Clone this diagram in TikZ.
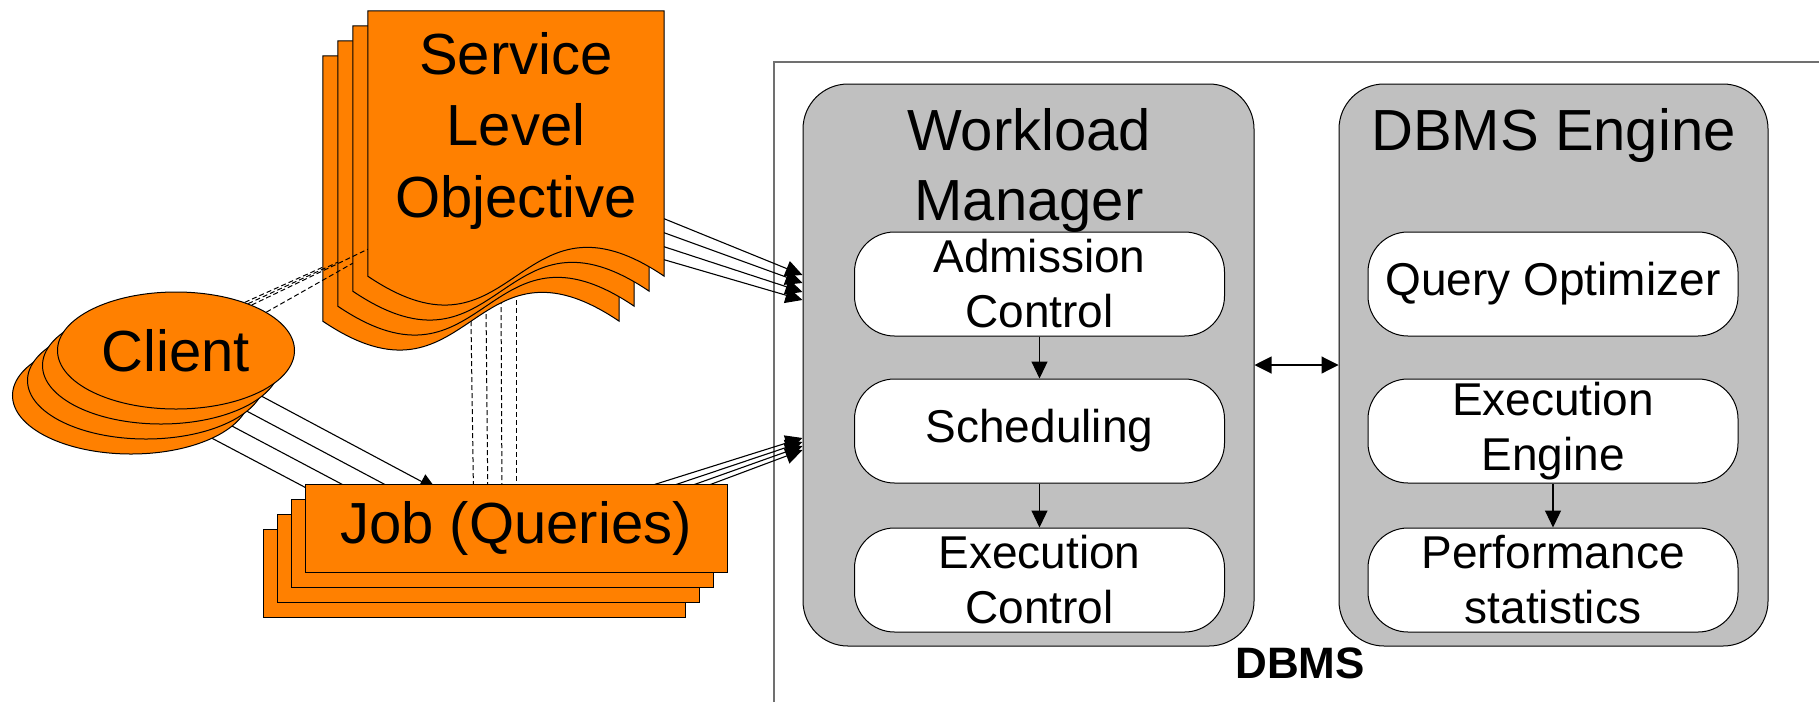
\documentclass[tikz,border=0pt]{standalone}
\usepackage{fontspec}
\setmainfont{Liberation Sans}
\usetikzlibrary{arrows.meta,shapes.geometric,calc}
\pgfdeclarelayer{back}
\pgfsetlayers{back,main}
\definecolor{org}{HTML}{FF8000}
\definecolor{gbox}{HTML}{C0C0C0}
\definecolor{frm}{HTML}{707070}
\begin{document}
\begin{tikzpicture}[x=1pt,y=-1pt,
  arr/.style={-{Triangle[length=17pt,width=16pt]}, line width=1.1pt},
  darr/.style={{Triangle[length=17pt,width=17pt]}-{Triangle[length=17pt,width=17pt]}, line width=1.1pt},
  dsh/.style={dash pattern=on 5pt off 3pt, line width=1pt},
  graybox/.style={draw, line width=1pt, fill=gbox, rounded corners=45pt, inner sep=0pt},
  inbox/.style={draw, line width=1pt, fill=white, rounded corners=40pt, minimum width=370pt, minimum height=104pt, inner sep=0pt, align=center, font=\fontsize{46}{55}\selectfont},
  title/.style={align=center, font=\fontsize{58}{70}\selectfont, inner sep=0pt},
  bigtxt/.style={font=\fontsize{58}{70}\selectfont, inner sep=0pt},
  orng/.style={draw, line width=1pt, fill=org},
  cli/.style={orng, ellipse, minimum width=237pt, minimum height=117pt, inner sep=0pt, font=\fontsize{58}{70}\selectfont},
  job/.style={orng, rectangle, minimum width=422pt, minimum height=88pt, inner sep=0pt, font=\fontsize{58}{70}\selectfont},
  page/.style={rectangle, minimum width=296pt, minimum height=265pt, inner sep=0pt},
]
\useasboundingbox (0,0) rectangle (1819,702);

% DBMS part
\node[graybox, minimum width=451pt, minimum height=562pt] (wm) at (1028.5,365) {};
\node[graybox, minimum width=429pt, minimum height=562pt] (eng) at (1553.5,365) {};
\node[title] (wmt) at (1029,170) {Workload\\Manager};
\node[bigtxt, anchor=base] (engt) at (1553.5,150) {DBMS Engine};
\node[inbox] (ad) at (1039.5,284) {Admission\\Control};
\node[inbox] (sc) at (1039.5,431) {Scheduling};
\node[inbox] (ec) at (1039.5,580) {Execution\\Control};
\node[inbox] (qo) at (1553,284) {Query Optimizer};
\node[inbox] (ee) at (1553,431) {Execution\\Engine};
\node[inbox] (ps) at (1553,580) {Performance\\statistics};
\draw[arr] (ad.south) -- (sc.north);
\draw[arr] (sc.south) -- (ec.north);
\draw[arr] (ee.south) -- (ps.north);
\draw[darr] (wm.east) -- (eng.west);
\node[font=\fontsize{44}{50}\selectfont\bfseries, anchor=base, inner sep=0pt] (dbms) at (1300,678) {DBMS};

% Service level objective pages
\foreach \i/\x/\y in {4/471/188.5, 3/486/173.5, 2/501/158.5, 1/516/143.5} {
  \node[page] (s\i) at (\x,\y) {};
  \draw[orng] (s\i.north west) -- (s\i.north east) -- (s\i.south east)
    .. controls ($(s\i.south)+(0,-100)$) and ($(s\i.south)+(0,100)$) .. (s\i.south west) -- cycle;
}
\node[title, font=\fontsize{58}{71.5}\selectfont] (slot) at (516,130.5) {Service\\Level\\Objective};

% Jobs
\foreach \i/\x/\y in {4/474/573, 3/488/558, 2/502/543} {\node[job] (j\i) at (\x,\y) {};}
\node[job] (j1) at (516,528) {Job (Queries)};

% Clients
\foreach \i/\x/\y in {4/131/395.5, 3/146/380.5, 2/161/365.5} {\node[cli] (c\i) at (\x,\y) {};}
\node[cli] (c1) at (176,350.5) {Client};

% dashed client -> SLO
\draw[dsh] (c1.31) -- ($(s1.south west)+(0,-27)$);
\draw[dsh] (c1.23) -- ($(s2.south west)+(0,-28)$);
\draw[dsh] (c1.33) -- ($(s3.south west)+(0,-44)$);
\draw[dsh] (c1.35) -- ($(s4.south west)+(0,-54)$);

\begin{pgfonlayer}{back}
  \draw[frm, line width=1.5pt] (774,702) -- (774,62) -- (1819,62);
  \foreach \i/\d in {1/-90,2/-82,3/-73,4/-65}
    \draw[arr] ($(s\i.center)+(0,15)$) -- ($(wm.west)+(0,\d)$);
  \foreach \i/\d in {1/73,2/77,3/81,4/85}
    \draw[arr] (j\i.center) -- ($(wm.west)+(0,\d)$);
  \foreach \i in {1,...,4}
    \draw[arr] (c\i.center) -- ($(j\i.north west)+(132,6)$);
  \foreach \i in {1,...,4}
    \draw[dsh] (s\i.south) -- (j\i.north);
\end{pgfonlayer}
\end{tikzpicture}
\end{document}
